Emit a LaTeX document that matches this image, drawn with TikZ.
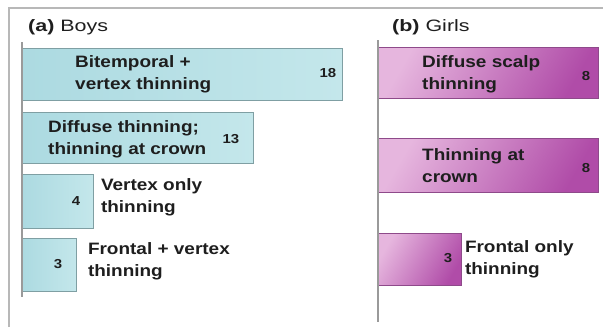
\documentclass[tikz,border=0pt]{standalone}
\usepackage{fontspec}
\setmainfont{Liberation Sans}
\newfontfamily\barfont[FakeStretch=1.15]{Liberation Sans}
\newfontfamily\ttlfont[FakeStretch=1.3]{Liberation Sans}
\usepackage{tikz}
\usetikzlibrary{positioning}

\definecolor{framegray}{HTML}{B8B8B8}
\definecolor{axisgray}{HTML}{9A9A9A}
\definecolor{boyL}{HTML}{ACDAE1}
\definecolor{boyR}{HTML}{C4E7EB}
\definecolor{boyEdge}{HTML}{7F9FA3}
\definecolor{girlL}{HTML}{E6B6DE}
\definecolor{girlR}{HTML}{B04CA8}
\definecolor{girlEdge}{HTML}{8E4A8A}
\definecolor{txt}{HTML}{1E1E1E}

\tikzset{
  boybar/.style={draw=boyEdge, line width=0.8pt, left color=boyL, right color=boyR,
    anchor=north west, inner sep=0pt},
  girlbar/.style={draw=girlEdge, line width=0.8pt, shading=axis, top color=girlL,
    bottom color=girlR, shading angle=60, anchor=north west, inner sep=0pt},
  lbl/.style={font=\barfont\bfseries\fontsize{16.5}{22}\selectfont, text=txt, align=left,
    anchor=west, inner sep=0pt},
  num/.style={font=\barfont\bfseries\fontsize{13}{16}\selectfont, text=txt, inner sep=0pt},
  ttl/.style={font=\ttlfont\fontsize{16.5}{18}\selectfont, text=txt, anchor=west, inner sep=0pt}
}

\begin{document}
\begin{tikzpicture}[x=1pt,y=-1pt]
        \useasboundingbox (0,0) rectangle (603,327);

        % Outer frame
        \draw[framegray, line width=1.5pt] (9,327) -- (9,8) -- (603,8);

        % Axes
        \coordinate (atop) at (22,42);
        \coordinate (abot) at (22,297);
        \coordinate (btop) at (378,40);
        \coordinate (bbot) at (378,322);

        % Titles
        \node[ttl] (ta) at (28,27) {\textbf{(a)} Boys};
        \node[ttl] (tb) at (392,27) {\textbf{(b)} Girls};

        % Boys bars
        \node[boybar, minimum width=320pt, minimum height=52pt] (b1) at (22,48) {};
        \node[boybar, minimum width=231pt, minimum height=51pt] (b2) at (22,112) {};
        \node[boybar, minimum width=71pt, minimum height=54pt] (b3) at (22,174) {};
        \node[boybar, minimum width=54pt, minimum height=53pt] (b4) at (22,238) {};

        % Girls bars
        \node[girlbar, minimum width=220pt, minimum height=51pt] (g1) at (378,47) {};
        \node[girlbar, minimum width=220pt, minimum height=54pt] (g2) at (378,138) {};
        \node[girlbar, minimum width=83pt, minimum height=52pt] (g3) at (378,233) {};

        % Draw the axes over the bars
        \draw[axisgray, line width=1.5pt] (atop) -- (abot);
        \draw[axisgray, line width=1.5pt] (btop) -- (bbot);

        % Boys labels and counts
        \node[lbl] (l1) at (75,74) {Bitemporal +\\vertex thinning};
        \node[num] (n1) at (328,73) {18};
        \node[lbl] (l2) at (48,139) {Diffuse thinning;\\thinning at crown};
        \node[num] (n2) at (231,139) {13};
        \node[num] (n3) at (76,201) {4};
        \node[lbl, right=7pt of b3.east, yshift=4pt] (l3) {Vertex only\\thinning};
        \node[num] (n4) at (58,264) {3};
        \node[lbl, right=11pt of b4.east, yshift=4pt] (l4) {Frontal + vertex\\thinning};

        % Girls labels and counts
        \node[lbl] (m1) at (422,74) {Diffuse scalp\\thinning};
        \node[num] (k1) at (586,76) {8};
        \node[lbl] (m2) at (422,166) {Thinning at\\crown};
        \node[num] (k2) at (586,168) {8};
        \node[num] (k3) at (448,258) {3};
        \node[lbl, right=3pt of g3.east] (m3) {Frontal only\\thinning};
\end{tikzpicture}
\end{document}
